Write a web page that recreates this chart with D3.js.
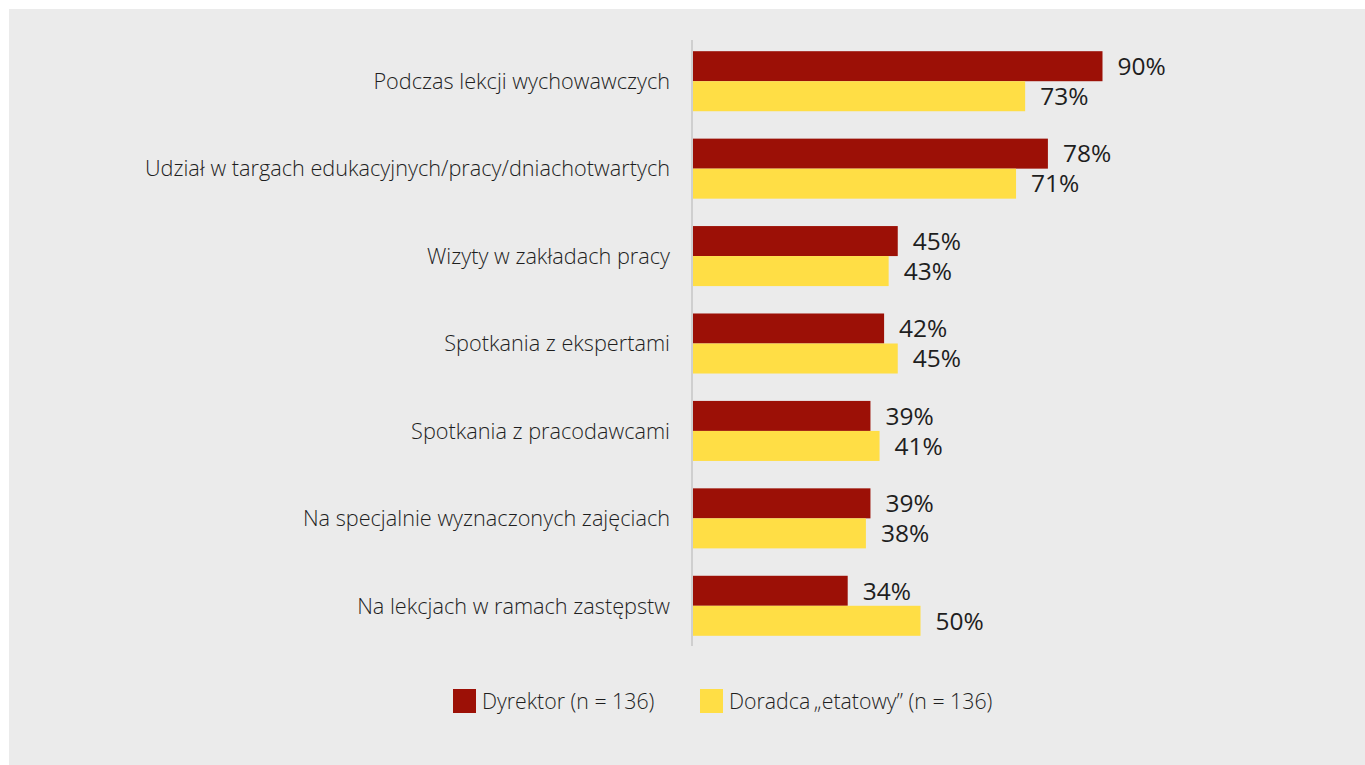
<!DOCTYPE html>
<html><head><meta charset="utf-8">
<script src="https://cdn.jsdelivr.net/npm/d3@7"></script>
<style>
html,body{margin:0;padding:0;background:#fff;}
svg{display:block;}
text{font-family:"Open Sans",sans-serif;fill:#1e1e1e;}
</style></head>
<body>
<svg id="chart" width="1365" height="765"></svg>
<script>
const categories = [
  "Podczas lekcji wychowawczych",
  "Udział w targach edukacyjnych/pracy/dniachotwartych",
  "Wizyty w zakładach pracy",
  "Spotkania z ekspertami",
  "Spotkania z pracodawcami",
  "Na specjalnie wyznaczonych zajęciach",
  "Na lekcjach w ramach zastępstw"
];
const dyrektor = [90, 78, 45, 42, 39, 39, 34];
const doradca  = [73, 71, 43, 45, 41, 38, 50];
const seriesNames = ["Dyrektor (n = 136)", "Doradca\u2009\u201Eetatowy\u201D (n = 136)"];
const colors = ["#9c1006", "#ffde45"];

const svg = d3.select("#chart");
svg.append("rect").attr("x",9).attr("y",9).attr("width",1356).attr("height",756).attr("fill","#ebebeb");

const x0 = 693;
const x = d3.scaleLinear().domain([0,100]).range([x0, x0+455]);
const y = d3.scaleBand().domain(categories).range([37.5, 649.5]).paddingInner(27.4/87.4).paddingOuter(13.7/87.4);
const barH = y.bandwidth()/2;

const series = [dyrektor, doradca];
series.forEach((vals, si) => {
  const g = svg.append("g");
  g.selectAll("rect").data(categories).join("rect")
    .attr("x", x(0))
    .attr("y", d => y(d) + si*barH)
    .attr("width", (d,i) => x(vals[i]) - x(0))
    .attr("height", barH)
    .attr("fill", colors[si]);
  g.selectAll("text").data(categories).join("text")
    .attr("x", (d,i) => x(vals[i]) + 15)
    .attr("y", (d,i) => y(d) + si*barH + barH/2)
    .attr("dy", "0.36em")
    .style("font-size", "24.5px")
    .text((d,i) => vals[i] + "%");
});

// axis line
svg.append("line").attr("x1",692).attr("x2",692).attr("y1",40).attr("y2",646)
  .attr("stroke","#c6c6c6").attr("stroke-width",1.5);

// category labels
svg.append("g").selectAll("text").data(categories).join("text")
  .attr("x", 670)
  .attr("y", d => y(d) + y.bandwidth()/2)
  .attr("dy", "0.36em")
  .attr("text-anchor","end")
  .style("font-size","21.7px")
  .style("font-weight","300")
  .text(d => d);

// legend
const legendX = [453, 700];
seriesNames.forEach((n, i) => {
  svg.append("rect").attr("x", legendX[i]).attr("y", 689).attr("width", 23).attr("height", 24).attr("fill", colors[i]);
  svg.append("text").attr("x", legendX[i] + 29).attr("y", 701).attr("dy","0.36em")
    .style("font-size","21.3px").style("font-weight","300").text(n);
});
</script>
</body></html>
